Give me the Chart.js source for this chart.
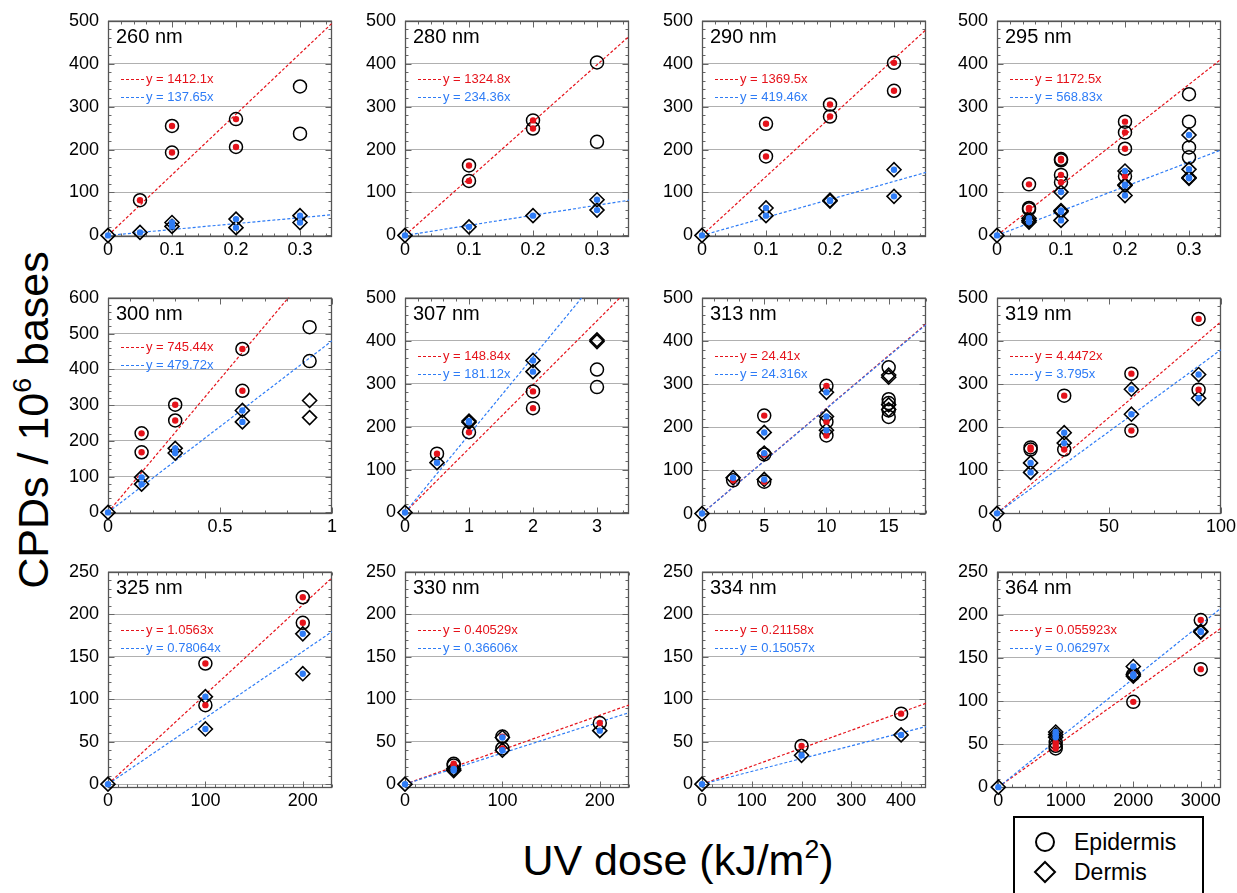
<!DOCTYPE html>
<html>
<head>
<meta charset="utf-8">
<script src="https://cdn.jsdelivr.net/npm/chart.js@4.4.1/dist/chart.umd.min.js"></script>
<style>
  body { margin: 0; background: #fff; font-family: "Liberation Sans", Arial, sans-serif; }
  #wrap { position: relative; width: 1237px; height: 893px; overflow: hidden; background: #fff; }
  #wrap canvas { position: absolute; }
  #ytitle { position: absolute; left: 33px; top: 420px; transform: translate(-50%, -50%) rotate(-90deg);
            white-space: nowrap; font-size: 43px; line-height: 1; color: #000; }
  #xtitle { position: absolute; left: 678px; top: 860px; transform: translate(-50%, -50%);
            white-space: nowrap; font-size: 43px; line-height: 1; color: #000; }
  sup { font-size: 0.62em; vertical-align: 0.62em; line-height: 0; }
  #legend { position: absolute; left: 1013px; top: 816px; width: 187px; height: 100px;
            border: 2.5px solid #000; background: #fff; }
  #legend span { position: absolute; left: 59px; font-size: 23px; line-height: 1; transform: translateY(-50%); }
</style>
</head>
<body>
<div id="wrap">
  <div id="ytitle">CPDs / 10<sup>6</sup> bases</div>
  <div id="xtitle">UV dose (kJ/m<sup>2</sup>)</div>
  <div id="legend">
    <svg width="187" height="100" style="position:absolute;left:0;top:0">
      <circle cx="30" cy="24" r="9" fill="none" stroke="#000" stroke-width="2"/>
      <polygon points="30,44 40,54 30,64 20,54" fill="none" stroke="#000" stroke-width="2"/>
    </svg>
    <span style="top:24px">Epidermis</span>
    <span style="top:54px">Dermis</span>
  </div>
</div>
<script>
const RED = "#e5131b";
const BLUE = "#2e7cf6";

// tick labels
const xTicksShort = [0, 0.1, 0.2, 0.3];
const xTicks300 = [0, 0.5, 1];
const xTicks307 = [0, 1, 2, 3];
const xTicks313 = [0, 5, 10, 15];
const xTicks319 = [0, 50, 100];
const xTicks330 = [0, 100, 200];
const xTicks334 = [0, 100, 200, 300, 400];
const xTicks364 = [0, 1000, 2000, 3000];
const yTicks500 = [0, 100, 200, 300, 400, 500];
const yTicks600 = [0, 100, 200, 300, 400, 500, 600];
const yTicks250 = [0, 50, 100, 150, 200, 250];

// [dose, CPDs]; epi/der = used in fit (filled dot), *Out = excluded (open)
// the unirradiated point (0,0) is shown only by the dermis marker
const epi260 = [[0.05,82],[0.1,255],[0.1,193],[0.2,271],[0.2,206]];
const epiOut260 = [[0.3,347],[0.3,237]];
const der260 = [[0,0],[0.05,7],[0.1,30],[0.1,21],[0.2,38],[0.2,18],[0.3,46],[0.3,30]];
const slope260 = [1412.1, 137.65];

const epi280 = [[0.1,163],[0.1,127],[0.2,268],[0.2,249]];
const epiOut280 = [[0.3,403],[0.3,218]];
const der280 = [[0,0],[0.1,20],[0.2,46],[0.3,83],[0.3,59]];
const slope280 = [1324.8, 234.36];

const epi290 = [[0.1,260],[0.1,184],[0.2,305],[0.2,277],[0.3,402],[0.3,337]];
const der290 = [[0,0],[0.1,64],[0.1,46],[0.2,82],[0.2,80],[0.3,153],[0.3,91]];
const slope290 = [1369.5, 419.46];

const epi295 = [[0.05,119],[0.05,64],[0.05,61],[0.1,178],[0.1,175],[0.1,141],[0.1,124],
                [0.2,265],[0.2,240],[0.2,202],[0.2,138]];
const epiOut295 = [[0.3,329],[0.3,265],[0.3,205],[0.3,182]];
const der295 = [[0,0],[0.05,40],[0.05,35],[0.05,31],[0.1,101],[0.1,58],[0.1,55],[0.1,35],
                [0.2,150],[0.2,118],[0.2,116],[0.2,93],[0.3,234],[0.3,154],[0.3,135],[0.3,133]];
const slope295 = [1172.5, 568.83];

const epi300 = [[0.15,221],[0.15,168],[0.3,301],[0.3,257],[0.6,457],[0.6,340]];
const epiOut300 = [[0.9,518],[0.9,423]];
const der300 = [[0,0],[0.15,98],[0.15,79],[0.3,179],[0.3,166],[0.6,285],[0.6,253]];
const derOut300 = [[0.9,313],[0.9,265]];
const slope300 = [745.44, 479.72];

const epi307 = [[0.5,137],[1,187],[2,282],[2,243]];
const epiOut307 = [[3,333],[3,292]];
const der307 = [[0,0],[0.5,116],[1,213],[1,210],[2,354],[2,328]];
const derOut307 = [[3,402],[3,398]];
const slope307 = [148.84, 181.12];

const epi313 = [[2.5,77],[5,227],[5,137],[5,74],[10,296],[10,213],[10,181]];
const epiOut313 = [[15,339],[15,265],[15,256],[15,239],[15,224]];
const der313 = [[0,0],[2.5,83],[5,188],[5,140],[5,79],[10,281],[10,225],[10,193]];
const derOut313 = [[15,321],[15,316],[15,252],[15,241]];
const slope313 = [24.41, 24.316];

const epi319 = [[15,153],[15,148],[30,273],[30,148],[60,324],[60,192],[90,451],[90,287]];
const der319 = [[0,0],[15,117],[15,95],[30,187],[30,163],[60,288],[60,230],[90,322],[90,267]];
const slope319 = [4.4472, 3.795];

const epi325 = [[100,142],[100,93],[200,220],[200,190]];
const der325 = [[0,0],[100,103],[100,65],[200,177],[200,130]];
const slope325 = [1.0563, 0.78064];

const epi330 = [[50,24],[50,22],[100,56],[100,42],[200,72]];
const der330 = [[0,0],[50,18],[50,16],[100,55],[100,40],[200,63]];
const slope330 = [0.40529, 0.36606];

const epi334 = [[200,45],[400,83]];
const der334 = [[0,0],[200,34],[400,58]];
const slope334 = [0.21158, 0.15057];

const epi364 = [[850,52],[850,48],[850,45],[2000,131],[2000,99],[3000,194],[3000,137]];
const der364 = [[0,0],[850,64],[850,61],[850,58],[2000,140],[2000,131],[2000,129],[3000,181],[3000,180]];
const slope364 = [0.055923, 0.06297];

const colLeft = [108, 405, 702, 997];
const rowTop = [13, 290, 564];
const PLOT = 224;

const panels = [
  { title: "260 nm", c: 0, r: 0, epi: epi260, epiOut: epiOut260, der: der260, derOut: [], slope: slope260,
    xTicks: xTicksShort, yTicks: yTicks500, xMin: 0, xMax: 0.35, yMin: -3.7, yMax: 500, xMinor: 0.02, yMinor: 20 },
  { title: "280 nm", c: 1, r: 0, epi: epi280, epiOut: epiOut280, der: der280, derOut: [], slope: slope280,
    xTicks: xTicksShort, yTicks: yTicks500, xMin: 0, xMax: 0.35, yMin: -3.7, yMax: 500, xMinor: 0.02, yMinor: 20 },
  { title: "290 nm", c: 2, r: 0, epi: epi290, epiOut: [], der: der290, derOut: [], slope: slope290,
    xTicks: xTicksShort, yTicks: yTicks500, xMin: 0, xMax: 0.35, yMin: -3.7, yMax: 500, xMinor: 0.02, yMinor: 20 },
  { title: "295 nm", c: 3, r: 0, epi: epi295, epiOut: epiOut295, der: der295, derOut: [], slope: slope295,
    xTicks: xTicksShort, yTicks: yTicks500, xMin: 0, xMax: 0.35, yMin: -3.7, yMax: 500, xMinor: 0.02, yMinor: 20 },
  { title: "300 nm", c: 0, r: 1, epi: epi300, epiOut: epiOut300, der: der300, derOut: derOut300, slope: slope300,
    xTicks: xTicks300, yTicks: yTicks600, xMin: 0, xMax: 1, yMin: -4.5, yMax: 600, xMinor: 0.1, yMinor: 20, eqY: [49, 67] },
  { title: "307 nm", c: 1, r: 1, epi: epi307, epiOut: epiOut307, der: der307, derOut: derOut307, slope: slope307,
    xTicks: xTicks307, yTicks: yTicks500, xMin: 0, xMax: 3.5, yMin: -3.5, yMax: 500, xMinor: 0.2, yMinor: 20 },
  { title: "313 nm", c: 2, r: 1, epi: epi313, epiOut: epiOut313, der: der313, derOut: derOut313, slope: slope313,
    xTicks: xTicks313, yTicks: yTicks500, xMin: 0, xMax: 18, yMin: -1, yMax: 500, xMinor: 1, yMinor: 20 },
  { title: "319 nm", c: 3, r: 1, epi: epi319, epiOut: [], der: der319, derOut: [], slope: slope319,
    xTicks: xTicks319, yTicks: yTicks500, xMin: 0, xMax: 100, yMin: -1.5, yMax: 500, xMinor: 10, yMinor: 20 },
  { title: "325 nm", c: 0, r: 2, epi: epi325, epiOut: [], der: der325, derOut: [], slope: slope325,
    xTicks: xTicks330, yTicks: yTicks250, xMin: 0, xMax: 230, yMin: -4.5, yMax: 250, xMinor: 10, yMinor: 10 },
  { title: "330 nm", c: 1, r: 2, epi: epi330, epiOut: [], der: der330, derOut: [], slope: slope330,
    xTicks: xTicks330, yTicks: yTicks250, xMin: 0, xMax: 230, yMin: -4.5, yMax: 250, xMinor: 10, yMinor: 10 },
  { title: "334 nm", c: 2, r: 2, epi: epi334, epiOut: [], der: der334, derOut: [], slope: slope334,
    xTicks: xTicks334, yTicks: yTicks250, xMin: 0, xMax: 450, yMin: -4.5, yMax: 250, xMinor: 20, yMinor: 10 },
  { title: "364 nm", c: 3, r: 2, epi: epi364, epiOut: [], der: der364, derOut: [], slope: slope364,
    xTicks: xTicks364, yTicks: yTicks250, xMin: -20, xMax: 3300, yMin: -1, yMax: 250, xMinor: 200, yMinor: 10 }
];

Chart.defaults.font.family = '"Liberation Sans", Arial, sans-serif';
const TICK_FONT = { family: '"Liberation Sans Narrow", "Liberation Sans", Arial, sans-serif', size: 18 };

function tickMarks(scale, step, majors) {
  const out = [];
  for (let i = Math.ceil(scale.min / step - 1e-9); i * step <= scale.max + 1e-9; i++) {
    const v = +(i * step).toFixed(6);
    out.push([v, majors.some(m => Math.abs(m - v) < step / 100)]);
  }
  return out;
}

const panelDeco = {
  id: "panelDeco",
  beforeDatasetsDraw(chart, args, o) {
    const { ctx, chartArea: a } = chart;
    const sx = chart.scales.x, sy = chart.scales.y;
    const L = Math.round(a.left) + 0.5, R = Math.round(a.right) - 0.5;
    const T = Math.round(a.top) + 0.5, B = Math.round(a.bottom) - 0.5;
    ctx.save();
    ctx.strokeStyle = "#666";
    ctx.lineWidth = 1;
    ctx.beginPath();
    tickMarks(sx, o.xMinor, o.xTicks).forEach(([v, major]) => {
      const px = Math.round(sx.getPixelForValue(v)) + 0.5, len = major ? 6 : 3;
      ctx.moveTo(px, B); ctx.lineTo(px, B - len);
      ctx.moveTo(px, T); ctx.lineTo(px, T + len);
    });
    tickMarks(sy, o.yMinor, o.yTicks).forEach(([v, major]) => {
      const py = Math.round(sy.getPixelForValue(v)) + 0.5, len = major ? 6 : 3;
      ctx.moveTo(L, py); ctx.lineTo(L + len, py);
      ctx.moveTo(R, py); ctx.lineTo(R - len, py);
    });
    ctx.stroke();
    ctx.strokeStyle = "#555";
    ctx.lineWidth = 1.3;
    ctx.strokeRect(L, T, R - L, B - T);
    ctx.restore();
  },
  afterDatasetsDraw(chart, args, o) {
    const { ctx, chartArea: a } = chart;
    ctx.save();
    ctx.fillStyle = "#000";
    ctx.font = '20px "Liberation Sans", Arial, sans-serif';
    ctx.textBaseline = "alphabetic";
    ctx.fillText(o.title, a.left + 8, a.top + 22);
    ctx.font = '13px "Liberation Sans", Arial, sans-serif';
    ctx.textBaseline = "middle";
    [RED, BLUE].forEach((col, i) => {
      const y = Math.round(a.top + o.eqY[i]) + 0.5;
      ctx.strokeStyle = col;
      ctx.lineWidth = 1.2;
      ctx.setLineDash([3, 2]);
      ctx.beginPath();
      ctx.moveTo(a.left + 13, y);
      ctx.lineTo(a.left + 37, y);
      ctx.stroke();
      ctx.setLineDash([]);
      ctx.fillStyle = col;
      ctx.fillText("y = " + o.slope[i] + "x", a.left + 38, y);
    });
    ctx.restore();
  }
};

const wrap = document.getElementById("wrap");
const toXY = arr => arr.map(p => ({ x: p[0], y: p[1] }));

panels.forEach(p => {
  const cv = document.createElement("canvas");
  const W = 50 + PLOT + 22, H = 12 + PLOT + 26;
  cv.width = W; cv.height = H;
  cv.style.left = (colLeft[p.c] - 50) + "px";
  cv.style.top = (rowTop[p.r] - 12) + "px";
  cv.style.width = W + "px"; cv.style.height = H + "px";
  wrap.appendChild(cv);

  const fitLine = (s, col, ord) => ({
    data: [{ x: 0, y: 0 }, { x: p.xMax, y: s * p.xMax }],
    showLine: true, borderColor: col, borderWidth: 1.2, borderDash: [3, 2],
    pointRadius: 0, fill: false, order: ord
  });

  new Chart(cv, {
    type: "scatter",
    data: {
      datasets: [
        fitLine(p.slope[0], RED, 10),
        fitLine(p.slope[1], BLUE, 9),
        { data: toXY(p.epi.concat(p.epiOut)), pointStyle: "circle", pointRadius: 6.5, clip: false,
          borderColor: "#000", borderWidth: 1.5, backgroundColor: "rgba(255,255,255,0)", order: 5 },
        { data: toXY(p.der.concat(p.derOut)), pointStyle: "rectRot", pointRadius: 7, clip: false,
          borderColor: "#000", borderWidth: 1.6, backgroundColor: "rgba(255,255,255,0)", order: 4 },
        { data: toXY(p.epi), pointStyle: "circle", pointRadius: 3.2, borderWidth: 0, clip: false,
          backgroundColor: RED, order: 3 },
        { data: toXY(p.der), pointStyle: "circle", pointRadius: 3.2, borderWidth: 0, clip: false,
          backgroundColor: BLUE, order: 2 }
      ]
    },
    options: {
      responsive: false,
      animation: false,
      events: [],
      layout: { padding: { left: 0, top: 12, right: 22, bottom: 0 } },
      plugins: {
        legend: { display: false },
        tooltip: { enabled: false },
        panelDeco: {
          title: p.title, slope: p.slope, eqY: p.eqY || [58, 76],
          xTicks: p.xTicks, yTicks: p.yTicks, xMinor: p.xMinor, yMinor: p.yMinor
        }
      },
      scales: {
        x: {
          type: "linear", min: p.xMin, max: p.xMax,
          afterBuildTicks: s => { s.ticks = p.xTicks.map(v => ({ value: v })); },
          afterFit: s => { s.height = 26; },
          grid: { display: false, drawTicks: false },
          border: { display: false },
          ticks: { color: "#000", font: TICK_FONT, padding: 2, autoSkip: false, maxRotation: 0,
                   callback: v => String(v) }
        },
        y: {
          type: "linear", min: p.yMin, max: p.yMax,
          afterBuildTicks: s => { s.ticks = p.yTicks.map(v => ({ value: v })); },
          afterFit: s => { s.width = 50; },
          grid: { color: "#b0b0b0", lineWidth: 1, drawTicks: false },
          border: { display: false },
          ticks: { color: "#000", font: TICK_FONT, padding: 9, autoSkip: false,
                   callback: v => String(v) }
        }
      }
    },
    plugins: [panelDeco]
  });
});
</script>
</body>
</html>
